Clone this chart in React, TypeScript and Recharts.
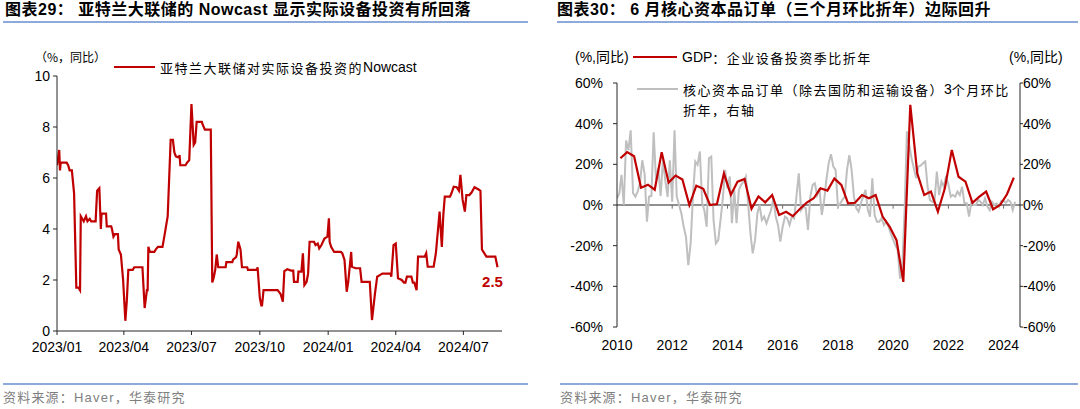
import React from "react";
import { LineChart, Line, XAxis, YAxis, ReferenceLine, LabelList } from "recharts";

const RED = "#C00000";
const GRAY = "#BFBFBF";
const RULE = "#8EAADB";
const LATIN = "'Liberation Sans', Arial, sans-serif";
const CJK = "'Liberation Sans', 'Noto Sans CJK SC', sans-serif";

// 图表29: Atlanta Fed nowcast (%, yoy)
const nowcastDates = [
  "2023-01-01", "2023-01-04", "2023-01-05", "2023-01-06", "2023-01-14", "2023-01-16", "2023-01-18", "2023-01-21",
  "2023-01-24", "2023-01-27", "2023-01-30", "2023-02-01", "2023-02-02", "2023-02-04", "2023-02-06", "2023-02-09",
  "2023-02-11", "2023-02-14", "2023-02-16", "2023-02-22", "2023-02-24", "2023-02-27", "2023-03-01", "2023-03-02",
  "2023-03-08", "2023-03-09", "2023-03-15", "2023-03-16", "2023-03-18", "2023-03-20", "2023-03-24", "2023-03-25",
  "2023-03-28", "2023-03-31", "2023-04-03", "2023-04-05", "2023-04-07", "2023-04-13", "2023-04-15", "2023-04-26",
  "2023-04-29", "2023-05-02", "2023-05-03", "2023-05-04", "2023-05-06", "2023-05-12", "2023-05-14", "2023-05-17",
  "2023-05-23", "2023-05-26", "2023-05-30", "2023-06-03", "2023-06-06", "2023-06-08", "2023-06-10", "2023-06-14",
  "2023-06-15", "2023-06-16", "2023-06-23", "2023-06-25", "2023-06-28", "2023-07-01", "2023-07-04", "2023-07-06",
  "2023-07-08", "2023-07-15", "2023-07-16", "2023-07-19", "2023-07-27", "2023-07-29", "2023-07-31", "2023-08-02",
  "2023-08-04", "2023-08-06", "2023-08-16", "2023-08-17", "2023-08-25", "2023-08-26", "2023-08-30", "2023-08-31",
  "2023-09-02", "2023-09-05", "2023-09-07", "2023-09-14", "2023-09-15", "2023-09-27", "2023-09-28", "2023-10-01",
  "2023-10-03", "2023-10-04", "2023-10-06", "2023-10-25", "2023-10-29", "2023-11-01", "2023-11-03", "2023-11-07",
  "2023-11-12", "2023-11-15", "2023-11-16", "2023-11-21", "2023-11-22", "2023-11-26", "2023-11-28", "2023-11-30",
  "2023-12-03", "2023-12-05", "2023-12-07", "2023-12-13", "2023-12-15", "2023-12-18", "2023-12-20", "2023-12-23",
  "2023-12-27", "2023-12-31", "2024-01-02", "2024-01-03", "2024-01-05", "2024-01-09", "2024-01-18", "2024-01-20",
  "2024-01-23", "2024-01-26", "2024-01-28", "2024-02-01", "2024-02-02", "2024-02-07", "2024-02-13", "2024-02-15",
  "2024-02-26", "2024-02-29", "2024-03-04", "2024-03-07", "2024-03-11", "2024-03-14", "2024-03-25", "2024-03-26",
  "2024-03-29", "2024-04-01", "2024-04-04", "2024-04-09", "2024-04-12", "2024-04-14", "2024-04-16", "2024-04-22",
  "2024-04-24", "2024-04-26", "2024-04-29", "2024-05-01", "2024-05-10", "2024-05-12", "2024-05-14", "2024-05-22",
  "2024-05-25", "2024-05-30", "2024-06-02", "2024-06-04", "2024-06-06", "2024-06-13", "2024-06-15", "2024-06-18",
  "2024-06-22", "2024-06-25", "2024-06-27", "2024-06-30", "2024-07-03", "2024-07-05", "2024-07-09", "2024-07-12",
  "2024-07-16", "2024-07-21", "2024-07-24", "2024-07-26", "2024-07-28", "2024-08-01", "2024-08-13", "2024-08-16",
];
const nowcastValues = [
  6.5, 7.1, 6.3, 6.6, 6.6, 6.5, 6.3, 6.3,
  5.4, 1.7, 1.7, 1.6, 4.5, 4.4, 4.3, 4.5,
  4.3, 4.4, 4.3, 4.3, 5.5, 5.6, 4.0, 4.6,
  4.6, 4.1, 4.1, 4.0, 3.7, 3.8, 3.8, 3.2,
  3.0, 2.0, 0.4, 1.2, 2.4, 2.4, 2.5, 2.5,
  0.9, 1.6, 1.6, 3.3, 3.1, 3.1, 3.2, 3.3,
  3.3, 3.8, 4.5, 7.5, 7.5, 7.0, 6.85, 6.8,
  6.9, 6.5, 6.5, 6.6, 6.7, 8.9, 7.3, 7.4,
  8.2, 8.2, 8.1, 7.9, 7.9, 1.9, 2.1, 2.4,
  3.0, 2.5, 2.5, 2.7, 2.7, 2.8, 2.9, 3.0,
  3.5, 3.2, 2.5, 2.5, 2.4, 2.4, 2.5, 1.3,
  1.0, 1.0, 1.6, 1.6, 1.45, 1.15, 2.35, 2.42,
  2.37, 2.37, 1.93, 1.93, 2.33, 2.33, 3.05, 1.8,
  1.93, 2.25, 3.5, 3.5, 3.37, 3.43, 3.24, 3.37,
  3.63, 3.7, 4.42, 3.5, 3.3, 3.1, 3.1, 3.05,
  2.79, 1.54, 1.93, 3.1, 2.52, 2.46, 2.46, 1.93,
  1.93, 0.43, 1.47, 2.13, 2.2, 2.25, 2.25, 2.13,
  3.37, 3.43, 2.07, 2.0, 1.9, 1.9, 2.13, 2.13,
  1.9, 1.9, 1.6, 2.92, 2.92, 3.05, 2.52, 2.52,
  3.05, 4.68, 3.3, 4.55, 5.27, 5.27, 5.4, 5.66,
  5.64, 5.5, 6.12, 5.14, 4.68, 5.33, 5.33, 5.43,
  5.64, 5.56, 5.5, 3.2, 3.1, 2.92, 2.92, 2.5,
];
const nowcastTicks = ["2023-01-01", "2023-04-01", "2023-07-01", "2023-10-01", "2024-01-01", "2024-04-01", "2024-07-01"];
const nowcastYTicks = [0, 2, 4, 6, 8, 10];

// 图表30: GDP equipment investment (q/q saar, quarterly from 2010Q1)
const gdpValues = [
  23, 26, 24, 8.5,
  10, 7.5, 26, 11,
  14.5, 12.5, 0, 9.5,
  8, 0, 0.5, 15.5,
  5, 11.5, 12.8, -1.8,
  4.2, 1.3, 4.9, -4.9,
  -3.3, -5.5, -2.0, 1.2,
  3.3, 8.2, 7.1, 13.0,
  9.9, 0.8, 1.1, 4.9,
  3.3, 4.9, -5.7, -10.6,
  -17.3, -37.8, 49.3, 15.6,
  4.9, 6.6, -3.3, 8.2,
  27.1, 13.9, 11.5, 1.1,
  4.1, 6.6, -2.1, 0,
  5.3, 13.5,
];
// core capital goods orders, 3m/3m saar (monthly from 2010-01), right axis
const ordersValues = [
  3.3, 5.8, 14.8, 0, 31.7, 27, 36.7, 5.8, 4.1, 6.6, 10.7, 22,
  15.3, -8.2, 4.1, 4.4, 35.8, 12.3, 18, 4.4, 22.2, 12.3, 4, 22,
  1.6, 36.7, 4.1, 0, -4.1, -10.7, -15.6, -29.6, -18.9, 4.1, 21.4, 19.7,
  26.3, 0.8, -2.5, -10.7, 23, 23.8, -7.4, -18.9, -17.3, -7.4, 3.3, 17.3,
  8.2, 14, -9, 7.4, -9, 7.4, 9.9, 11.5, 14, 0.8, -14, -23.8,
  -17.3, -4.1, 0, -7.4, -5.7, -9, -5.7, -2.5, 3.3, -5.7, -9.9, -18,
  -10.7, -5.7, -6.6, -9.9, -5.7, -6.6, 4.1, 15.6, -2.5, -0.8, -1.5, -12.3,
  4.1, 9.9, 10.7, 4.9, 8.2, -4.9, 1.6, 12.3, 20.6, 25, 18.9, 17.3,
  -0.8, 0.8, 2.5, 4.1, 17.3, 24.5, 17.3, 4.1, -1.6, -3.3, 1.0, 4.1,
  7.4, -2.5, -5.7, 13.1, -4.9, -8.2, -8.2, -6.6, -9.9, -8.2, -10.7, -14,
  -17, -20, -22.2, -36.2, -30.4, -2.5, 36.2, 29.6, 23, 18.1, 13.1, 18.9,
  19.5, 20.6, 21.4, 9, 2.5, 1.6, 1.6, 16.4, 4.9, 11.5, 9, 14.3,
  10, 4.1, 4.9, 4.1, 6.6, 4.9, 9, 0.8, 0.8, -5.7, 1.6, 0,
  0, 2.5, 1.6, 0, 3.3, -0.8, -2.5, 1.6, 0, 0.8, -0.8, 2.1,
  2.1, 1.1, 2.5, 1.6, -2.5, 1.6,
];
const yearTicks = [2010, 2012, 2014, 2016, 2018, 2020, 2022, 2024];
const pctTicks = [-60, -40, -20, 0, 20, 40, 60];

const nowcastData = nowcastDates.map((d, i) => ({ t: Date.parse(d), v: nowcastValues[i] }));
const gdpData = gdpValues.map((v, i) => ({ t: Date.UTC(2010 + Math.floor(i / 4), (i % 4) * 3 + 1, 15), v }));
const ordersData = ordersValues.map((v, i) => ({ t: Date.UTC(2010 + Math.floor(i / 12), i % 12, 1), v }));
const yearTickTimes = yearTicks.map((y) => Date.UTC(y, 0, 1));

const tickStyle = { fontSize: 14, fill: "#000", fontFamily: LATIN };
const cjkText = { fontFamily: "'Noto Sans CJK SC', sans-serif", fontSize: 13, letterSpacing: 1.5 };

const monthLabel = (t: number) => {
  const d = new Date(t);
  return `${d.getUTCFullYear()}/${String(d.getUTCMonth() + 1).padStart(2, "0")}`;
};

const LastValueLabel = (props: any) => {
  const { x, y, index, value } = props;
  if (index !== nowcastValues.length - 1) return null;
  return (
    <text x={x - 5} y={y + 20} textAnchor="middle" fill={RED} fontSize={15} fontWeight="bold" fontFamily={LATIN}>
      {value}
    </text>
  );
};

function NowcastChart() {
  return (
    <LineChart width={540} height={380} data={nowcastData} margin={{ top: 76, right: 38, bottom: 19, left: 12 }}>
      <XAxis
        dataKey="t"
        type="number"
        domain={[Date.parse("2023-01-01"), Date.parse("2024-08-22")]}
        ticks={nowcastTicks.map((d) => Date.parse(d))}
        interval={0}
        tickFormatter={monthLabel}
        tick={tickStyle}
        stroke="#262626"
        tickSize={4}
        tickMargin={7}
        height={30}
        allowDataOverflow
      />
      <YAxis
        domain={[0, 10]}
        ticks={nowcastYTicks}
        interval={0}
        tick={tickStyle}
        stroke="#262626"
        tickSize={4}
        tickMargin={3}
        width={45}
      />
      <Line dataKey="v" stroke={RED} strokeWidth={2.2} dot={false} isAnimationActive={false}>
        <LabelList dataKey="v" content={<LastValueLabel />} />
      </Line>
    </LineChart>
  );
}

function OrdersChart() {
  return (
    <LineChart width={540} height={380} margin={{ top: 83, right: 4, bottom: 23, left: 17 }}>
      <XAxis
        dataKey="t"
        type="number"
        domain={[Date.UTC(2010, 0, 1), Date.UTC(2024, 7, 5)]}
        ticks={yearTickTimes}
        interval={0}
        tickFormatter={(t: number) => String(new Date(t).getUTCFullYear())}
        tick={tickStyle}
        axisLine={false}
        tickLine={false}
        tickSize={5}
        tickMargin={8}
        height={30}
        allowDataOverflow
      />
      <YAxis
        yAxisId="left"
        domain={[-60, 60]}
        ticks={pctTicks}
        interval={0}
        tickFormatter={(v: number) => `${v}%`}
        tick={tickStyle}
        stroke="#262626"
        tickSize={4}
        tickMargin={10}
        width={60}
      />
      <YAxis
        yAxisId="right"
        orientation="right"
        domain={[-60, 60]}
        ticks={pctTicks}
        interval={0}
        tickFormatter={(v: number) => `${v}%`}
        tick={tickStyle}
        stroke="#262626"
        tickSize={3}
        tickMargin={0}
        width={56}
      />
      <ReferenceLine yAxisId="left" y={0} stroke="#6b6b6b" strokeWidth={1.5} />
      {yearTickTimes.slice(1).map((t) => (
        <ReferenceLine
          key={t}
          yAxisId="left"
          segment={[{ x: t, y: 0 }, { x: t, y: -1.8 }]}
          stroke="#6b6b6b"
          strokeWidth={1}
        />
      ))}
      <Line yAxisId="right" data={ordersData} dataKey="v" stroke={GRAY} strokeWidth={2} dot={false} isAnimationActive={false} />
      <Line yAxisId="left" data={gdpData} dataKey="v" stroke={RED} strokeWidth={2.2} dot={false} isAnimationActive={false} />
    </LineChart>
  );
}

const abs = (left: number, top: number, extra: React.CSSProperties = {}): React.CSSProperties => ({
  position: "absolute",
  left,
  top,
  whiteSpace: "nowrap",
  ...extra,
});

export default function App() {
  const title: React.CSSProperties = { fontFamily: CJK, fontSize: 16, fontWeight: "bold", lineHeight: "18px", color: "#000", letterSpacing: 0.5 };
  const source: React.CSSProperties = { fontFamily: CJK, fontSize: 13, lineHeight: "16px", color: "#7f7f7f", letterSpacing: 1.2 };
  const legendRow: React.CSSProperties = { display: "flex", alignItems: "center", height: 18 };
  return (
    <div style={{ position: "absolute", left: 0, top: 0, width: 1080, height: 409, background: "#fff", overflow: "hidden" }}>
      {/* titles and rules */}
      <div style={abs(5, 1, title)}>图表29：&nbsp;亚特兰大联储的 Nowcast 显示实际设备投资有所回落</div>
      <div style={abs(557, 1, title)}>图表30：&nbsp;6 月核心资本品订单（三个月环比折年）边际回升</div>
      <div style={abs(3, 21, { width: 525, height: 2, background: RULE })} />
      <div style={abs(557, 21, { width: 521, height: 2, background: RULE })} />
      <div style={abs(3, 383, { width: 525, height: 2, background: RULE })} />
      <div style={abs(560, 383, { width: 518, height: 2, background: RULE })} />
      <div style={abs(3, 390, source)}>资料来源：Haver，华泰研究</div>
      <div style={abs(560, 390, source)}>资料来源：Haver，华泰研究</div>

      {/* charts */}
      <div style={abs(0, 0)}>
        <NowcastChart />
      </div>
      <div style={abs(540, 0)}>
        <OrdersChart />
      </div>

      {/* left chart unit + legend */}
      <div style={abs(35, 48, { ...cjkText, fontSize: 12, letterSpacing: 0, lineHeight: "18px" })}>（%，同比）</div>
      <div style={abs(114, 58, legendRow)}>
        <span style={{ width: 41, height: 2.2, background: RED, marginRight: 5 }} />
        <span style={cjkText}>亚特兰大联储对实际设备投资的</span>
        <span style={{ fontFamily: LATIN, fontSize: 14 }}>Nowcast</span>
      </div>

      {/* right chart units + legend */}
      <div style={abs(575, 48, { fontFamily: CJK, fontSize: 14, lineHeight: "18px" })}>(%,同比)</div>
      <div style={abs(1009, 48, { fontFamily: CJK, fontSize: 14, lineHeight: "18px" })}>(%,同比)</div>
      <div style={abs(633, 48, legendRow)}>
        <span style={{ width: 44, height: 2.2, background: RED, marginRight: 5 }} />
        <span style={{ fontFamily: LATIN, fontSize: 14 }}>GDP</span>
        <span style={cjkText}>：企业设备投资季比折年</span>
      </div>
      <div style={abs(637, 80, legendRow)}>
        <span style={{ width: 41, height: 2, background: GRAY, marginRight: 5 }} />
        <span style={cjkText}>核心资本品订单（除去国防和运输设备）</span>
        <span style={{ fontFamily: LATIN, fontSize: 14 }}>3</span>
        <span style={cjkText}>个月环比</span>
      </div>
      <div style={abs(683, 100, { ...legendRow, ...cjkText })}>折年，右轴</div>
    </div>
  );
}
